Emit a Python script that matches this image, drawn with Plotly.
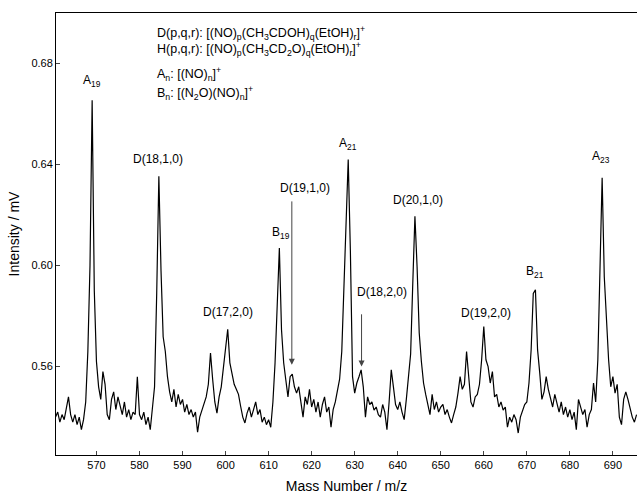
import plotly.graph_objects as go

# Sampling grid of the spectrum (m/z), uniform 0.5 steps
MZ_START = 560.5
MZ_STEP = 0.5

# Intensity (mV), 10 samples (5 m/z) per row starting at 560.5
intensity = [
    0.540, 0.542, 0.538, 0.541, 0.539, 0.544, 0.548, 0.541, 0.538, 0.541,  # 560.5-565.0
    0.537, 0.540, 0.535, 0.539, 0.546, 0.566, 0.600, 0.6655, 0.590, 0.562,  # 565.5-570.0
    0.552, 0.547, 0.558, 0.553, 0.541, 0.539, 0.547, 0.550, 0.543, 0.548,  # 570.5-575.0
    0.545, 0.541, 0.546, 0.540, 0.543, 0.539, 0.542, 0.541, 0.556, 0.541,  # 575.5-580.0
    0.539, 0.542, 0.537, 0.540, 0.535, 0.543, 0.552, 0.589, 0.6354, 0.598,  # 580.5-585.0
    0.5718, 0.566, 0.556, 0.550, 0.546, 0.551, 0.544, 0.549, 0.545, 0.547,  # 585.5-590.0
    0.542, 0.545, 0.541, 0.543, 0.540, 0.542, 0.534, 0.540, 0.543, 0.546,  # 590.5-595.0
    0.548, 0.553, 0.5654, 0.555, 0.546, 0.5416, 0.548, 0.552, 0.560, 0.566,  # 595.5-600.0
    0.5748, 0.5615, 0.5575, 0.553, 0.551, 0.549, 0.5443, 0.540, 0.5377, 0.5416,  # 600.5-605.0
    0.544, 0.540, 0.543, 0.546, 0.541, 0.543, 0.538, 0.540, 0.537, 0.539,  # 605.5-610.0
    0.536, 0.546, 0.5615, 0.581, 0.6069, 0.5746, 0.5615, 0.5547, 0.548, 0.556,  # 610.5-615.0
    0.557, 0.552, 0.5495, 0.552, 0.546, 0.540, 0.548, 0.545, 0.551, 0.544,  # 615.5-620.0
    0.547, 0.542, 0.546, 0.540, 0.545, 0.548, 0.542, 0.544, 0.536, 0.543,  # 620.5-625.0
    0.546, 0.551, 0.555, 0.566, 0.593, 0.6195, 0.642, 0.606, 0.556, 0.5495,  # 625.5-630.0
    0.5535, 0.556, 0.5587, 0.552, 0.540, 0.548, 0.545, 0.546, 0.5428, 0.544,  # 630.5-635.0
    0.541, 0.540, 0.545, 0.542, 0.535, 0.546, 0.5587, 0.552, 0.545, 0.543,  # 635.5-640.0
    0.546, 0.542, 0.539, 0.547, 0.5547, 0.565, 0.593, 0.6195, 0.5995, 0.5733,  # 640.5-645.0
    0.562, 0.5535, 0.549, 0.545, 0.541, 0.549, 0.543, 0.546, 0.542, 0.544,  # 645.5-650.0
    0.545, 0.541, 0.543, 0.540, 0.5377, 0.541, 0.544, 0.5495, 0.556, 0.551,  # 650.5-655.0
    0.553, 0.566, 0.555, 0.546, 0.544, 0.548, 0.549, 0.553, 0.5627, 0.5759,  # 655.5-660.0
    0.5627, 0.560, 0.5535, 0.558, 0.548, 0.549, 0.544, 0.546, 0.5428, 0.544,  # 660.5-665.0
    0.536, 0.540, 0.538, 0.541, 0.539, 0.5337, 0.540, 0.543, 0.545, 0.546,  # 665.5-670.0
    0.5535, 0.5666, 0.589, 0.5904, 0.5666, 0.5575, 0.547, 0.550, 0.556, 0.551,  # 670.5-675.0
    0.547, 0.544, 0.549, 0.546, 0.542, 0.546, 0.541, 0.544, 0.540, 0.543,  # 675.5-680.0
    0.539, 0.542, 0.535, 0.547, 0.544, 0.541, 0.543, 0.536, 0.541, 0.543,  # 680.5-685.0
    0.5535, 0.546, 0.5627, 0.6023, 0.6348, 0.5955, 0.5757, 0.5627, 0.552, 0.556,  # 685.5-690.0
    0.5495, 0.553, 0.540, 0.537, 0.547, 0.550, 0.547, 0.543, 0.540, 0.538,  # 690.5-695.0
    0.541,  # 695.5
]
mz = [MZ_START + MZ_STEP * i for i in range(len(intensity))]

# Peak labels: text, m/z position, intensity position
label_text = ["A<sub>19</sub>", "D(18,1,0)", "D(17,2,0)", "B<sub>19</sub>", "D(19,1,0)",
              "A<sub>21</sub>", "D(18,2,0)", "D(20,1,0)", "D(19,2,0)", "B<sub>21</sub>",
              "A<sub>23</sub>"]
label_mz = [569.0, 584.3, 600.5, 612.8, 618.4, 628.4, 636.3, 644.6, 660.5, 672.0, 687.3]
label_int = [0.6729, 0.642, 0.5817, 0.613, 0.6308, 0.648, 0.5896, 0.626, 0.5813, 0.5976, 0.6428]

# Arrows: m/z, tail intensity, head intensity
arrow_mz = [615.4, 631.6]
arrow_tail = [0.626, 0.5813]
arrow_head = [0.5607, 0.560]

legend_lines = [
    "D(p,q,r): [(NO)<sub>p</sub>(CH<sub>3</sub>CDOH)<sub>q</sub>(EtOH)<sub>r</sub>]<sup>+</sup>",
    "H(p,q,r): [(NO)<sub>p</sub>(CH<sub>3</sub>CD<sub>2</sub>O)<sub>q</sub>(EtOH)<sub>r</sub>]<sup>+</sup>",
    "A<sub>n</sub>: [(NO)<sub>n</sub>]<sup>+</sup>",
    "B<sub>n</sub>: [(N<sub>2</sub>O)(NO)<sub>n</sub>]<sup>+</sup>",
]
legend_y = [0.955, 0.919, 0.862, 0.819]

x_ticks = [570, 580, 590, 600, 610, 620, 630, 640, 650, 660, 670, 680, 690]
y_ticks = [0.56, 0.60, 0.64, 0.68]

FONT = "Liberation Sans, Arial, sans-serif"

fig = go.Figure()
fig.add_trace(go.Scatter(x=mz, y=intensity, mode="lines",
                         line=dict(color="black", width=1.2), hoverinfo="skip"))

annotations = []
for t, xm, yi in zip(label_text, label_mz, label_int):
    annotations.append(dict(x=xm, y=yi, xref="x", yref="y", text=t, showarrow=False,
                            font=dict(family=FONT, size=12, color="black"),
                            xanchor="center", yanchor="middle"))
for xm, yt, yh in zip(arrow_mz, arrow_tail, arrow_head):
    annotations.append(dict(x=xm, y=yh, ax=xm, ay=yt, xref="x", yref="y", axref="x", ayref="y",
                            text="", showarrow=True, arrowhead=2, arrowsize=1.2,
                            arrowwidth=1, arrowcolor="#444"))
for t, yp in zip(legend_lines, legend_y):
    annotations.append(dict(x=0.170, y=yp, xref="paper", yref="paper", text=t, showarrow=False,
                            font=dict(family=FONT, size=12.5, color="black"),
                            xanchor="left", yanchor="middle"))

fig.update_layout(
    width=637, height=498,
    margin=dict(l=56, r=0, t=13, b=43),
    paper_bgcolor="white", plot_bgcolor="white",
    showlegend=False,
    font=dict(family=FONT, color="black"),
    annotations=annotations,
    xaxis=dict(range=[560.6, 695.6], tickvals=x_ticks, ticks="inside", ticklen=4,
               showline=True, linecolor="black", linewidth=1, mirror=True, showgrid=False,
               zeroline=False, tickfont=dict(size=11, family=FONT),
               title=dict(text="Mass Number / m/z", font=dict(size=14, family=FONT), standoff=10)),
    yaxis=dict(range=[0.525, 0.700], tickvals=y_ticks, tickformat=".2f", ticks="inside",
               ticklen=4, showline=True, linecolor="black", linewidth=1, showgrid=False,
               zeroline=False, tickfont=dict(size=11, family=FONT),
               title=dict(text="Intensity / mV", font=dict(size=14, family=FONT), standoff=8)),
)

fig.write_html("out.html")
